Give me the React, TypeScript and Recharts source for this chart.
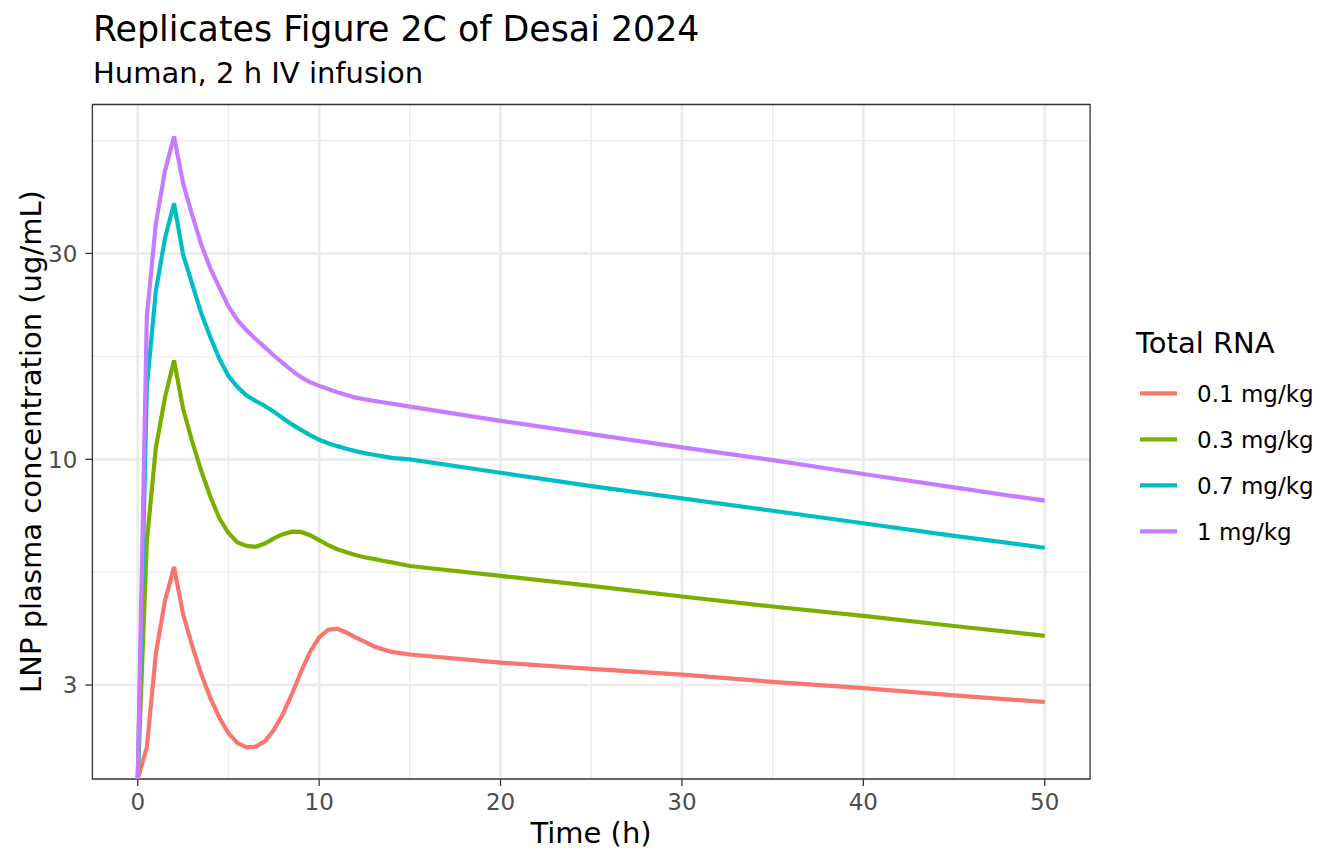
import React from "react";
import { LineChart, Line, XAxis, YAxis, CartesianGrid, ReferenceArea } from "recharts";

// time grid (h)
const times = [
  0, 0.5, 1, 1.5, 2, 2.5, 3, 3.5, 4, 4.5, 5, 5.5, 6, 6.5, 7, 7.5, 8, 8.5, 9, 9.5,
  10, 10.5, 11, 11.5, 12, 12.5, 13, 13.5, 14, 15, 20, 25, 30, 35, 40, 45, 50,
];

// LNP plasma concentration (ug/mL); t=0 sits on the panel floor
const dose01 = [
  1.817, 2.15, 3.55, 4.7, 5.63, 4.38, 3.7, 3.18, 2.8, 2.52, 2.32, 2.2, 2.15, 2.16, 2.22, 2.36, 2.57, 2.86, 3.22, 3.58,
  3.87, 4.03, 4.05, 3.97, 3.87, 3.78, 3.69, 3.63, 3.58, 3.53, 3.38, 3.27, 3.17, 3.05, 2.95, 2.84, 2.74,
];
const dose03 = [
  1.817, 6.45, 10.65, 13.9, 16.95, 13.1, 11.0, 9.4, 8.2, 7.3, 6.75, 6.42, 6.3, 6.27, 6.38, 6.56, 6.71, 6.8, 6.79, 6.67,
  6.5, 6.33, 6.19, 6.09, 6.0, 5.93, 5.88, 5.82, 5.77, 5.66, 5.37, 5.09, 4.81, 4.56, 4.34, 4.11, 3.9,
];
const dose07 = [
  1.817, 14.7, 24.6, 32.5, 39.2, 29.8, 25.5, 21.8, 19.2, 17.1, 15.6, 14.7, 14.05, 13.65, 13.3, 12.9, 12.45, 12.05, 11.7, 11.38,
  11.1, 10.9, 10.73, 10.58, 10.45, 10.34, 10.25, 10.16, 10.08, 10.0, 9.31, 8.67, 8.12, 7.6, 7.11, 6.65, 6.24,
];
const dose1 = [
  1.817, 21.4, 35.2, 46.6, 56.0, 43.6, 36.8, 31.5, 27.7, 25.0, 22.6, 21.0, 19.9, 19.0, 18.2, 17.4, 16.7, 16.05, 15.5, 15.1,
  14.8, 14.55, 14.3, 14.1, 13.9, 13.78, 13.66, 13.56, 13.46, 13.25, 12.28, 11.44, 10.66, 9.96, 9.25, 8.61, 8.02,
];

const seriesNames = ["0.1 mg/kg", "0.3 mg/kg", "0.7 mg/kg", "1 mg/kg"];
const seriesKeys = ["d01", "d03", "d07", "d1"];
const seriesColors = ["#F8766D", "#7CAE00", "#00BFC4", "#C77CFF"];

const xTicks = [0, 10, 20, 30, 40, 50];
const xMinor = [5, 15, 25, 35, 45];
const yTicks = [3, 10, 30];
const yMinor = [5.477, 17.32, 54.77];

const X_MIN = -2.5;
const X_MAX = 52.5;
const Y_MIN = 1.817;
const Y_MAX = 66.4;

const rows = times.map((t, i) => ({
  t,
  d01: dose01[i],
  d03: dose03[i],
  d07: dose07[i],
  d1: dose1[i],
}));

const FONT = "'DejaVu Sans', sans-serif";
const tickStyle = { fill: "#4D4D4D", fontSize: 23, fontFamily: FONT };

export default function App() {
  return (
    <div style={{ position: "absolute", left: 0, top: 0, width: 1344, height: 864, background: "#fff" }}>
      <LineChart
        width={1344}
        height={864}
        data={rows}
        margin={{ top: 104.5, right: 253.9, bottom: 0, left: 0 }}
      >
        <CartesianGrid
          stroke="#EBEBEB"
          strokeWidth={1.35}
          horizontalValues={yMinor}
          verticalValues={xMinor}
        />
        <CartesianGrid
          stroke="#EBEBEB"
          strokeWidth={2.7}
          horizontalValues={yTicks}
          verticalValues={xTicks}
        />
        <XAxis
          dataKey="t"
          type="number"
          domain={[X_MIN, X_MAX]}
          ticks={xTicks}
          interval={0}
          allowDataOverflow
          height={85}
          axisLine={false}
          tickLine={{ stroke: "#333333", strokeWidth: 1.3 }}
          tickSize={7}
          tickMargin={7.5}
          tick={tickStyle}
        />
        <YAxis
          scale="log"
          type="number"
          domain={[Y_MIN, Y_MAX]}
          ticks={yTicks}
          interval={0}
          allowDataOverflow
          width={92.4}
          axisLine={false}
          tickLine={{ stroke: "#333333", strokeWidth: 1.3 }}
          tickSize={7}
          tickMargin={8}
          tick={tickStyle}
        />
        {seriesKeys.map((k, i) => (
          <Line
            key={k}
            type="linear"
            dataKey={k}
            name={seriesNames[i]}
            stroke={seriesColors[i]}
            strokeWidth={4.2}
            dot={false}
            activeDot={false}
            isAnimationActive={false}
          />
        ))}
        <ReferenceArea
          x1={X_MIN}
          x2={X_MAX}
          y1={Y_MIN}
          y2={Y_MAX}
          fill="none"
          fillOpacity={0}
          stroke="#333333"
          strokeWidth={1.3}
          ifOverflow="visible"
        />
      </LineChart>

      <svg
        width={1344}
        height={864}
        style={{ position: "absolute", left: 0, top: 0, pointerEvents: "none" }}
        fontFamily={FONT}
      >
        <text x={93} y={41} fontSize={34.8} fill="#000">
          Replicates Figure 2C of Desai 2024
        </text>
        <text x={93} y={83} fontSize={29} fill="#000">
          Human, 2 h IV infusion
        </text>
        <text x={591} y={842.5} fontSize={29} fill="#000" textAnchor="middle">
          Time (h)
        </text>
        <text
          x={41}
          y={441.5}
          fontSize={29}
          fill="#000"
          textAnchor="middle"
          transform="rotate(-90 41 441.5)"
        >
          LNP plasma concentration (ug/mL)
        </text>

        <text x={1136} y={353} fontSize={29} fill="#000">
          Total RNA
        </text>
        {seriesNames.map((name, i) => {
          const y = 393.3 + i * 46;
          return (
            <g key={name}>
              <line x1={1140} x2={1177} y1={y} y2={y} stroke={seriesColors[i]} strokeWidth={4.2} />
              <text x={1197} y={y + 8.3} fontSize={23} fill="#000">
                {name}
              </text>
            </g>
          );
        })}
      </svg>
    </div>
  );
}
